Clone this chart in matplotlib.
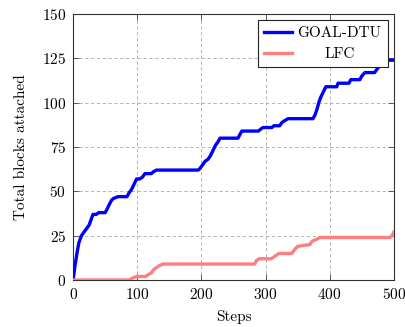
import matplotlib
matplotlib.use("Agg")
import matplotlib.pyplot as plt

plt.rcParams['font.family'] = ['cmr10', 'DejaVu Serif']
plt.rcParams['axes.formatter.use_mathtext'] = True
plt.rcParams['mathtext.fontset'] = 'cm'

goal_steps = [0, 3, 6, 9, 13, 17, 21, 25, 28, 31, 36, 40, 50, 53, 57, 60, 63, 70, 84, 87, 91, 95, 99,
              104, 108, 112, 122, 125, 130, 133, 195, 198, 202, 206, 210, 214, 218, 222, 226, 229,
              257, 260, 263, 289, 292, 296, 310, 313, 322, 326, 335, 374, 377, 380, 383, 386, 390,
              394, 411, 413, 430, 433, 447, 450, 455, 470, 474, 478, 483, 500]
goal_vals = [0, 8, 15, 21, 25, 27, 29, 31, 34, 37, 37, 38, 38, 40, 43, 45, 46, 47, 47, 49, 51, 54, 57,
             57, 58, 60, 60, 61, 62, 62, 62, 63, 65, 67, 68, 70, 73, 76, 78, 80,
             80, 82, 84, 84, 85, 86, 86, 87, 87, 89, 91, 91, 93, 96, 100, 103, 106,
             109, 109, 111, 111, 113, 113, 115, 117, 117, 119, 121, 124, 124]

lfc_steps = [0, 88, 92, 99, 113, 117, 122, 126, 130, 134, 140, 146, 283, 286, 290, 309, 313, 321,
             341, 345, 350, 369, 373, 380, 385, 494, 497, 500]
lfc_vals = [0, 0, 1, 2, 2, 3, 4, 6, 7, 8, 9, 9, 9, 11, 12, 12, 13, 15,
            15, 17, 19, 20, 22, 23, 24, 24, 25, 27]

x_ticks = [0, 100, 200, 300, 400, 500]
y_ticks = [0, 25, 50, 75, 100, 125, 150]

fs = 11

fig = plt.figure(figsize=(4.06, 3.27), dpi=100)
ax = fig.add_axes([0.180, 0.1437, 0.790, 0.8133])

ax.plot(goal_steps, goal_vals, color='#0000ff', lw=2.4, label='GOAL-DTU', zorder=3)
ax.plot(lfc_steps, lfc_vals, color='#ff7f7f', lw=2.4, label='LFC', zorder=3)

ax.set_xlim(0, 500)
ax.set_ylim(0, 150)
ax.set_xticks(x_ticks)
ax.set_yticks(y_ticks)
ax.grid(True, color='#aaaaaa', linestyle=(0, (4, 3)), linewidth=0.6)
ax.tick_params(direction='in', top=True, right=True, length=4, width=0.6, labelsize=fs, pad=5,
               color='#444444')
for s in ax.spines.values():
    s.set_linewidth(0.8)
    s.set_color('#333333')

ax.set_xlabel('Steps', fontsize=fs, labelpad=6)
ax.set_ylabel('Total blocks attached', fontsize=fs, labelpad=10)

leg = ax.legend(loc='upper right', fontsize=fs, fancybox=False, framealpha=1, edgecolor='#222222',
                borderpad=0.4, handlelength=1.85, handletextpad=0.35, labelspacing=0.5,
                borderaxespad=0.4)
leg.get_frame().set_linewidth(0.8)
for h in leg.get_lines():
    h.set_linewidth(2.4)

fig.canvas.draw()
r = fig.canvas.get_renderer()
texts = leg.get_texts()
widths = [t.get_window_extent(r).width for t in texts]
wmax = max(widths)
for t, w in zip(texts, widths):
    t.set_position(((wmax - w) / 2, 0))

fig.savefig('out.png', dpi=100)
